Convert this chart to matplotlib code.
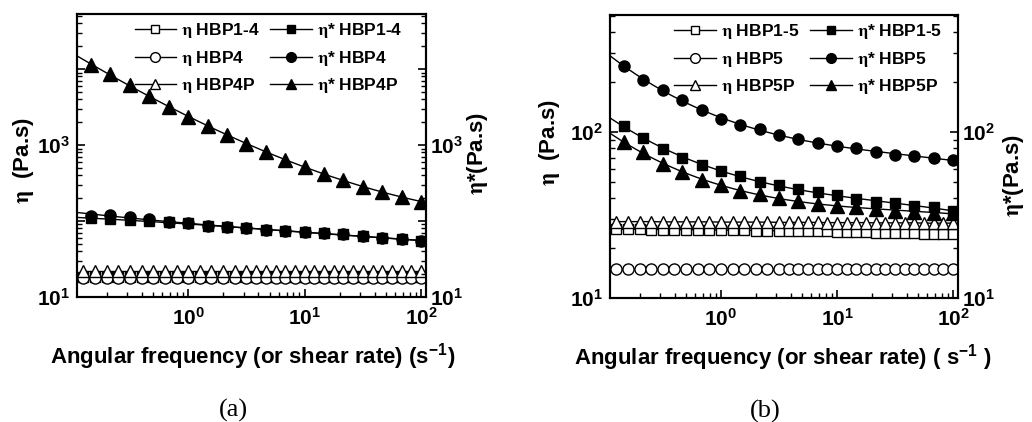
import numpy as np
import matplotlib
matplotlib.use("Agg")
import matplotlib.pyplot as plt
from matplotlib.ticker import FixedLocator, FuncFormatter
from matplotlib.lines import Line2D

plt.rcParams['font.family'] = ['Liberation Sans', 'DejaVu Sans']
plt.rcParams['font.weight'] = 'bold'
plt.rcParams['mathtext.fontset'] = 'stix'

# ---------------- data ----------------
# oscillatory (complex viscosity) frequencies
freq = [0.147, 0.215, 0.316, 0.464, 0.681, 1.0, 1.47, 2.15, 3.16,
        4.64, 6.81, 10.0, 14.7, 21.5, 31.6, 46.4, 68.1, 100.0]
# steady shear rates
rate = [0.126, 0.158, 0.2, 0.251, 0.316, 0.398, 0.501, 0.631, 0.794, 1.0,
        1.26, 1.58, 2.0, 2.51, 3.16, 3.83, 4.64, 5.62, 6.81, 8.25, 10.0,
        12.1, 14.7, 17.8, 21.5, 26.1, 31.6, 38.3, 46.4, 56.2, 68.1, 82.5, 100.0]

# panel (a)
a_eta_HBP1_4 = [18.2] * 33
a_eta_HBP4 = [17.6] * 33
a_eta_HBP4P = [22.0] * 33
a_etas_HBP1_4 = [108, 105, 102, 100, 97, 93.4, 86.7, 82.6, 80.5, 76.2, 73.8,
                 71, 68.9, 66.8, 63.5, 60.3, 57.5, 54.6]
a_etas_HBP4 = [117, 120, 114, 107, 97, 93.4, 86.7, 82.6, 80.5, 76.2, 73.8,
               71, 68.9, 66.8, 63.5, 60.3, 57.5, 54.6]
a_etas_HBP4P = [11200, 8500, 6150, 4420, 3190, 2360, 1780, 1350, 1030,
                815, 634, 518, 415, 347, 284, 243, 204, 180]

# panel (b)
b_eta_HBP1_5 = [26.0, 26.0, 26.0, 25.9, 25.9, 25.8, 25.8, 25.8, 25.7, 25.7,
                25.6, 25.6, 25.5, 25.5, 25.4, 25.4, 25.3, 25.3, 25.2, 25.2,
                25.1, 25.0, 25.0, 24.9, 24.8, 24.8, 24.7, 24.6, 24.6, 24.5,
                24.4, 24.4, 24.3]
b_eta_HBP5 = [15.0] * 33
b_eta_HBP5P = [28.9, 28.9, 28.9, 28.9, 28.8, 28.8, 28.8, 28.8, 28.8, 28.7,
               28.7, 28.7, 28.7, 28.7, 28.6, 28.6, 28.6, 28.6, 28.6, 28.5,
               28.5, 28.5, 28.5, 28.5, 28.4, 28.4, 28.4, 28.4, 28.4, 28.3,
               28.3, 28.3, 28.3]
b_etas_HBP1_5 = [109, 92, 79.8, 70.4, 63.6, 58.5, 54.6, 50.2, 48, 45.4, 43.4,
                 41.7, 39.4, 38, 37.3, 36, 35.2, 33.6]
b_etas_HBP5 = [251, 207, 180, 156, 136, 121, 110, 104, 96, 91.7, 86.7, 82.7,
               80.1, 76.1, 73, 72, 69.7, 68.1]
b_etas_HBP5P = [87.5, 75.5, 64.1, 57.2, 51.6, 48.2, 44.3, 42.4, 40.4, 38.5,
                36.8, 36, 35.2, 34.3, 33.6, 33.1, 32.8, 32.5]

labels_a = ["HBP1-4", "HBP4", "HBP4P"]
labels_b = ["HBP1-5", "HBP5", "HBP5P"]
XLIM = (0.111, 110)

W, H = 1032, 422
fig = plt.figure(figsize=(W / 100, H / 100), dpi=100)
ax_a = fig.add_axes([77/W, 1-297/H, 349/W, 283/H])
ax_b = fig.add_axes([610/W, 1-298/H, 348/W, 283/H])

open_styles = [dict(marker='s', ms=6.5), dict(marker='o', ms=8), dict(marker='^', ms=8.5)]
fill_styles = [dict(marker='s', ms=7), dict(marker='o', ms=8), dict(marker='^', ms=9.5)]
leg_open = [dict(marker='s', ms=5.5), dict(marker='o', ms=7), dict(marker='^', ms=7.5)]
leg_fill = [dict(marker='s', ms=5.5), dict(marker='o', ms=7), dict(marker='^', ms=7.5)]
ETA = r"$\mathrm{\eta}$"


def fit_line(ax, x, y):
    lx, ly = np.log10(x), np.log10(y)
    c = np.polyfit(lx, ly, 3)
    xx = np.linspace(np.log10(XLIM[0]), np.log10(x[-1]), 200)
    ax.plot(10**xx, 10**np.polyval(c, xx), color='black', lw=1.0, zorder=2)


def draw(ax, labels, opens, fills, ylim, majors, labelled):
    handles, texts = [], []
    for lab, y, st, ls in zip(labels, opens, open_styles, leg_open):
        ax.plot(rate, y, color='black', lw=1.0, mfc='white', mec='black',
                mew=1.0, zorder=3, **st)
        handles.append(Line2D([], [], color='black', lw=1.0, mfc='white',
                              mec='black', mew=1.0, **ls))
        texts.append(ETA + " " + lab)
    for lab, y, st, ls in zip(labels, fills, fill_styles, leg_fill):
        fit_line(ax, freq, y)
        ax.plot(freq, y, color='black', lw=0, mfc='black', mec='black',
                zorder=4, **st)
        handles.append(Line2D([], [], color='black', lw=1.0, mfc='black',
                              mec='black', **ls))
        texts.append(ETA + "* " + lab)
    ax.set_xscale('log')
    ax.set_yscale('log')
    ax.set_xlim(*XLIM)
    ax.set_ylim(*ylim)

    minors = []
    for e in range(-2, 6):
        for m in range(2, 10):
            minors.append(m * 10.0**e)
    ax.xaxis.set_major_locator(FixedLocator([0.1, 1, 10, 100]))
    ax.xaxis.set_minor_locator(FixedLocator(minors))
    ax.xaxis.set_major_formatter(FuncFormatter(
        lambda v, p: r"$\mathdefault{10^{%d}}$" % round(np.log10(v))))
    fmt = FuncFormatter(lambda v, p: (r"$\mathdefault{10^{%d}}$" % round(np.log10(v)))
                        if any(abs(v - L) < 1e-6 * L for L in labelled) else "")

    tw = ax.twinx()
    tw.set_yscale('log')
    tw.set_ylim(*ylim)
    for a in (ax, tw):
        a.yaxis.set_major_locator(FixedLocator(majors))
        a.yaxis.set_minor_locator(FixedLocator(minors))
        a.yaxis.set_major_formatter(fmt)
        for s in a.spines.values():
            s.set_linewidth(1.5)
    ax.tick_params(which='both', direction='in', labelsize=15, top=False, right=False)
    ax.tick_params(which='major', length=6, width=1.2, pad=5)
    ax.tick_params(which='minor', length=3.5, width=1.0)
    tw.tick_params(which='both', direction='in', labelsize=15)
    tw.tick_params(which='major', length=6, width=1.2, pad=3)
    tw.tick_params(which='minor', length=3.5, width=1.0)
    ax.tick_params(axis='x', which='major', pad=7)
    return handles, texts, tw


ha, ta, twa = draw(ax_a, labels_a, [a_eta_HBP1_4, a_eta_HBP4, a_eta_HBP4P],
                   [a_etas_HBP1_4, a_etas_HBP4, a_etas_HBP4P], (10, 5.3e4),
                   [10, 100, 1000, 10000], [10, 1000])
hb, tb, twb = draw(ax_b, labels_b, [b_eta_HBP1_5, b_eta_HBP5, b_eta_HBP5P],
                   [b_etas_HBP1_5, b_etas_HBP5, b_etas_HBP5P], (10, 510),
                   [10, 100], [10, 100])

for tw, hs, ts, anc in ((twa, ha, ta, (0.12, 1.03)), (twb, hb, tb, (0.14, 1.03))):
    tw.legend(hs, ts, ncol=2, loc='upper left', bbox_to_anchor=anc,
              frameon=False, fontsize=12.5, handlelength=2.4,
              handletextpad=0.3, columnspacing=0.6, labelspacing=0.5)

# axis titles
ylab_kw = dict(rotation=90, ha='center', va='center', fontsize=16)
fig.text(24/W, 1-161/H, ETA + "  (Pa.s)", **ylab_kw)
fig.text(478/W, 1-153/H, ETA + "*(Pa.s)", **ylab_kw)
fig.text(549/W, 1-143/H, ETA + "  (Pa.s)", **ylab_kw)
fig.text(1013/W, 1-175/H, ETA + "*(Pa.s)", **ylab_kw)

ax_a.text(0.503, -0.212, r"Angular frequency (or shear rate) (s$^{\mathdefault{-1}}$)",
          transform=ax_a.transAxes, ha='center', va='center', fontsize=16)
ax_b.text(0.497, -0.212, r"Angular frequency (or shear rate) ( s$^{\mathdefault{-1}}$ )",
          transform=ax_b.transAxes, ha='center', va='center', fontsize=16)

ax_a.text(0.447, -0.40, "(a)", transform=ax_a.transAxes, ha='center', va='center',
          fontsize=19, fontweight='normal', family='Liberation Serif')
ax_b.text(0.447, -0.40, "(b)", transform=ax_b.transAxes, ha='center', va='center',
          fontsize=19, fontweight='normal', family='Liberation Serif')

fig.savefig("out.png", dpi=100)
